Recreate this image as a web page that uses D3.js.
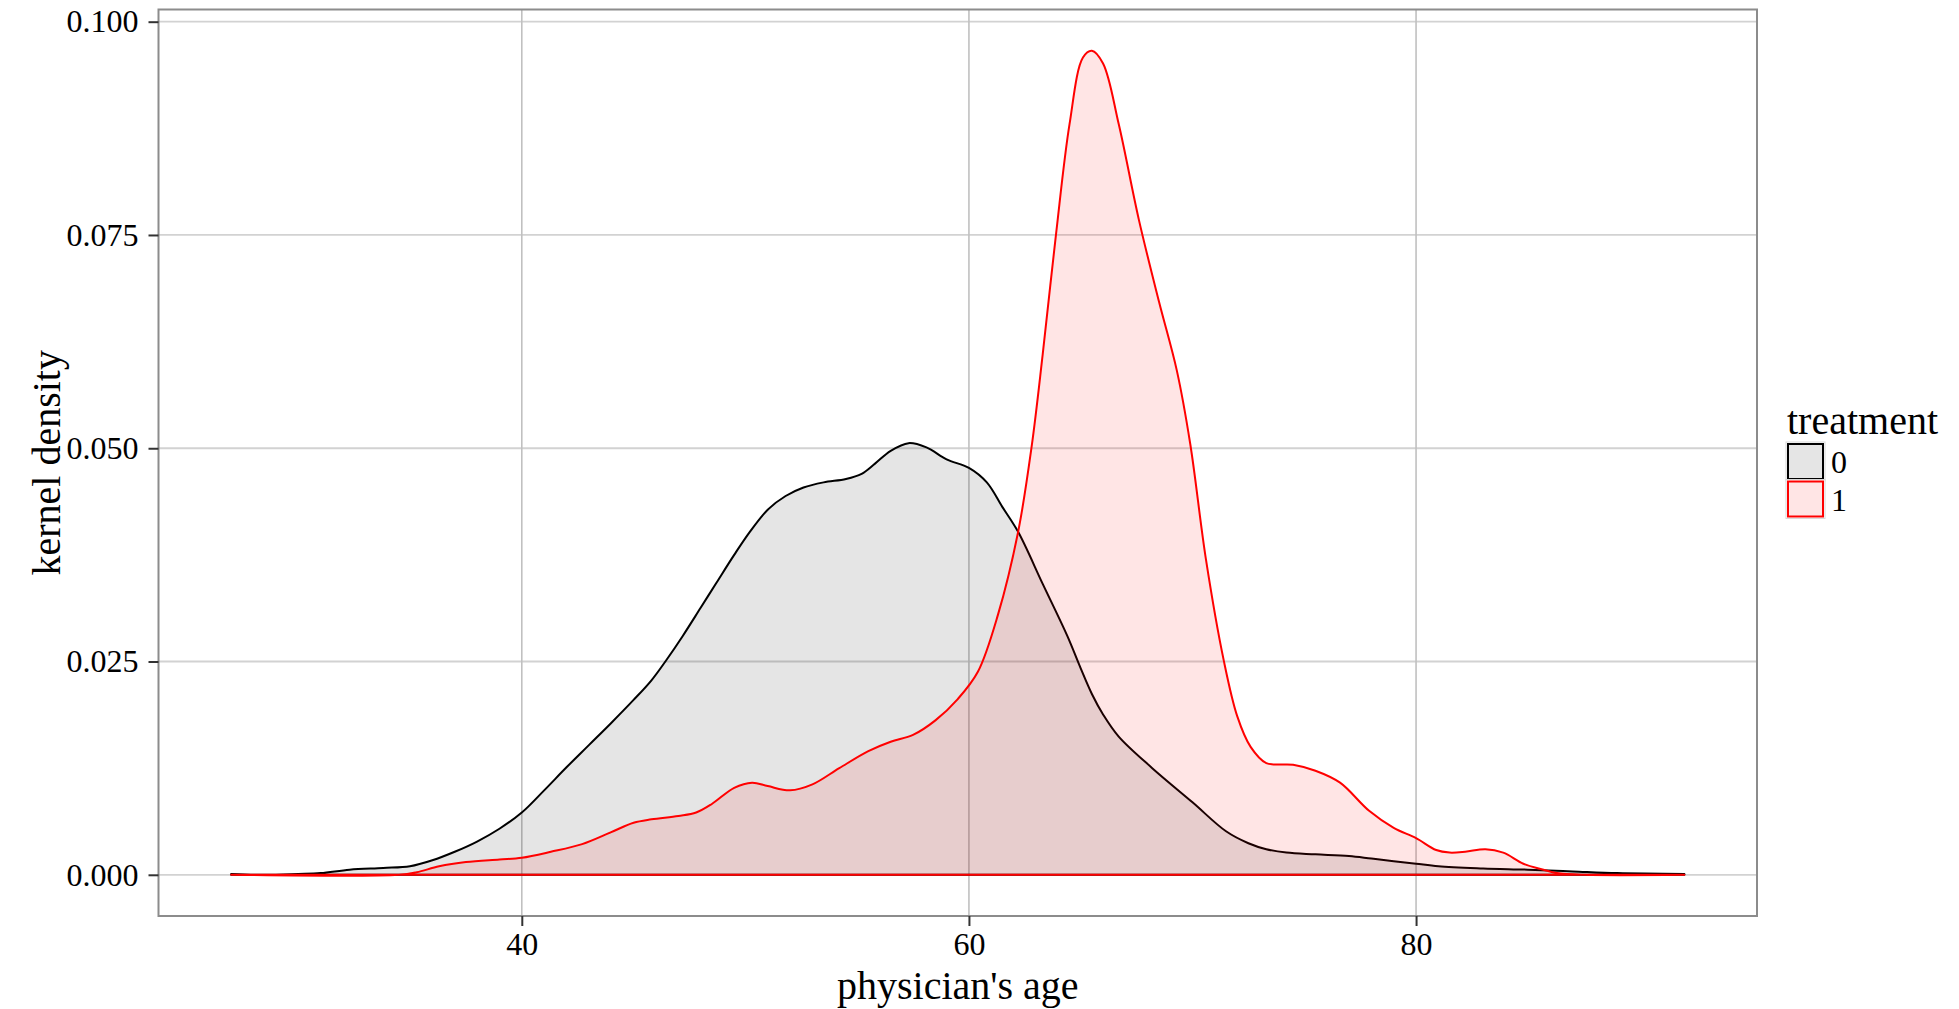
<!DOCTYPE html>
<html>
<head>
<meta charset="utf-8">
<script src="https://cdn.jsdelivr.net/npm/d3@7"></script>
<style>
body { margin: 0; background: #fff; }
text { font-family: "Liberation Serif", "Times New Roman", serif; fill: #000; }
</style>
</head>
<body>
<svg width="1959" height="1009"></svg>
<script>
// density curves
const age0 = [27.0, 28.5, 30.0, 31.0, 32.3, 33.8, 35.0, 36.0, 37.0, 38.0, 39.0, 40.0, 41.0, 42.0, 43.0, 44.0, 45.0, 45.8, 46.5, 47.2, 48.0, 48.7, 49.5, 50.2, 51.0, 51.8, 52.6, 53.5, 54.5, 55.2, 55.8, 56.5, 57.3, 58.1, 59.0, 60.0, 60.8, 61.5, 62.2, 63.3, 64.4, 65.0, 65.5, 66.0, 66.7, 68.2, 70.0, 71.5, 72.5, 73.3, 74.2, 75.5, 77.0, 78.0, 79.0, 80.0, 81.0, 83.0, 85.0, 87.0, 89.0, 92.0];
const dens0 = [0.0001, 0.0, 0.0001, 0.0002, 0.0006, 0.0008, 0.0010, 0.0017, 0.0027, 0.0039, 0.0054, 0.0073, 0.0099, 0.0126, 0.0152, 0.0178, 0.0205, 0.0228, 0.0253, 0.0280, 0.0313, 0.0342, 0.0375, 0.0402, 0.0428, 0.0444, 0.0454, 0.0460, 0.0464, 0.0470, 0.0482, 0.0497, 0.0506, 0.0501, 0.0487, 0.0477, 0.0460, 0.0431, 0.0402, 0.0341, 0.0280, 0.0242, 0.0212, 0.0188, 0.0162, 0.0125, 0.0085, 0.0051, 0.0037, 0.0030, 0.0026, 0.0024, 0.0022, 0.0019, 0.0016, 0.0013, 0.0010, 0.00075, 0.0006, 0.0004, 0.0002, 0.0001];

const age1 = [27.0, 34.5, 35.3, 36.3, 37.5, 39.0, 40.0, 41.3, 42.7, 44.0, 45.0, 45.8, 47.0, 47.8, 48.5, 49.5, 50.3, 51.0, 52.0, 53.0, 54.2, 55.5, 56.5, 57.5, 58.5, 59.5, 60.4, 61.3, 62.2, 62.8, 63.3, 63.9, 64.5, 65.1, 65.5, 66.0, 66.7, 67.6, 68.5, 69.3, 69.9, 70.6, 71.4, 72.0, 72.6, 73.3, 74.5, 75.5, 76.6, 77.9, 79.0, 80.0, 80.9, 81.5, 82.2, 83.1, 83.9, 84.8, 85.7, 86.3, 87.5, 92.0];
const dens1 = [0, 0, 0.0003, 0.0010, 0.0015, 0.0018, 0.0020, 0.0027, 0.0036, 0.0050, 0.0061, 0.0065, 0.0069, 0.0073, 0.0083, 0.0102, 0.0108, 0.0104, 0.0099, 0.0106, 0.0125, 0.0145, 0.0156, 0.0164, 0.0181, 0.0206, 0.0238, 0.0305, 0.0402, 0.0501, 0.0610, 0.0752, 0.0880, 0.0958, 0.0966, 0.0951, 0.0880, 0.0768, 0.0672, 0.0591, 0.0505, 0.0370, 0.0251, 0.0186, 0.0150, 0.0131, 0.0129, 0.0122, 0.0108, 0.0075, 0.0055, 0.0043, 0.0029, 0.0026, 0.0027, 0.0030, 0.0026, 0.0013, 0.0006, 0.0002, 0, 0];

const groups = ["0", "1"];
const lineColors = ["#000000", "#ff0000"];
const xTicks = [40, 60, 80];
const yTicks = [0, 0.025, 0.05, 0.075, 0.1];

const series = [
    age0.map((a, i) => ({ age: a, d: dens0[i] })),
    age1.map((a, i) => ({ age: a, d: dens1[i] }))
];

const svg = d3.select("svg");
const margin = { top: 9.5, left: 158.5 },
    width = 1598.5,
    height = 906.5;

// ggplot style 5% expansion
const allAges = age0.concat(age1);
const allDens = dens0.concat(dens1);
const xMin = d3.min(allAges), xMax = d3.max(allAges);
const yMin = 0, yMax = d3.max(allDens);
const xPad = (xMax - xMin) * 0.05, yPad = (yMax - yMin) * 0.05;

const x = d3.scaleLinear()
    .domain([xMin - xPad, xMax + xPad])
    .range([0, width]);
const y = d3.scaleLinear()
    .domain([yMin - yPad, yMax + yPad])
    .range([height, 0]);

const plot = svg.append("g")
    .attr("transform", "translate(" + margin.left + "," + margin.top + ")");

// grid
plot.selectAll(".hgrid")
    .data(yTicks)
    .enter()
    .append("line")
    .attr("x1", 0).attr("x2", width)
    .attr("y1", d => y(d)).attr("y2", d => y(d))
    .attr("stroke", "#d2d2d2")
    .attr("stroke-width", 1.8);

plot.selectAll(".vgrid")
    .data(xTicks)
    .enter()
    .append("line")
    .attr("y1", 0).attr("y2", height)
    .attr("x1", d => x(d)).attr("x2", d => x(d))
    .attr("stroke", "#c0c0c0")
    .attr("stroke-width", 1.6);

// densities
const area = d3.area()
    .x(d => x(d.age))
    .y0(y(0))
    .y1(d => Math.min(y(0), y(d.d)))
    .curve(d3.curveCatmullRom.alpha(0.5));

plot.selectAll(".dens")
    .data(series)
    .enter()
    .append("path")
    .attr("d", area)
    .attr("fill", (d, i) => lineColors[i])
    .attr("fill-opacity", 0.1)
    .attr("stroke", (d, i) => lineColors[i])
    .attr("stroke-width", 2)
    .attr("stroke-linejoin", "round");

// panel border
plot.append("rect")
    .attr("width", width)
    .attr("height", height)
    .attr("fill", "none")
    .attr("stroke", "#8c8c8c")
    .attr("stroke-width", 2);

// axes
const xAxis = plot.append("g")
    .attr("transform", "translate(0," + height + ")")
    .call(d3.axisBottom(x).tickValues(xTicks).tickSize(10).tickPadding(6).tickFormat(d3.format("d")));
const yAxis = plot.append("g")
    .call(d3.axisLeft(y).tickValues(yTicks).tickSize(10).tickPadding(10).tickFormat(d3.format(".3f")));

[xAxis, yAxis].forEach(ax => {
    ax.select(".domain").remove();
    ax.selectAll(".tick line").attr("stroke", "#333").attr("stroke-width", 2);
    ax.selectAll(".tick text")
        .style("font-size", "32px")
        .style("font-family", "'Liberation Serif', serif")
        .attr("fill", "#000");
});

// axis titles
svg.append("text")
    .attr("x", margin.left + width / 2)
    .attr("y", 999)
    .style("text-anchor", "middle")
    .style("font-size", "40px")
    .text("physician's age");

svg.append("text")
    .attr("transform", "translate(60," + (margin.top + height / 2) + ") rotate(-90)")
    .style("text-anchor", "middle")
    .style("font-size", "40px")
    .text("kernel density");

// legend
const legend = svg.append("g")
    .attr("transform", "translate(1787,0)");

legend.append("text")
    .attr("x", 0)
    .attr("y", 434)
    .style("font-size", "40px")
    .text("treatment");

const keys = legend.selectAll(".key")
    .data(groups)
    .enter()
    .append("g")
    .attr("transform", (d, i) => "translate(0," + (443 + i * 37.5) + ")");

keys.append("rect")
    .attr("x", -1).attr("y", -1)
    .attr("width", 39).attr("height", 39)
    .attr("fill", "#fff")
    .attr("stroke", "#d8d8d8")
    .attr("stroke-width", 1);

keys.append("rect")
    .attr("x", 1).attr("y", 1)
    .attr("width", 35).attr("height", 35)
    .attr("fill", (d, i) => lineColors[i])
    .attr("fill-opacity", 0.1)
    .attr("stroke", (d, i) => lineColors[i])
    .attr("stroke-width", 2);

keys.append("text")
    .attr("x", 44)
    .attr("y", 30)
    .style("font-size", "32px")
    .text(d => d);
</script>
</body>
</html>
